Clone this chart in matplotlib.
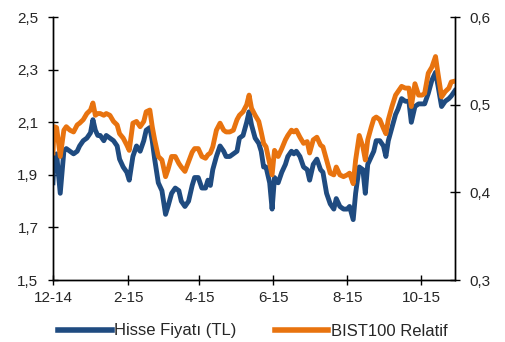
import pandas as pd
from matplotlib import pyplot as plt

# days counted from 1 Dec 2014
days = [0, 1, 3, 6, 9, 11, 14, 17, 20, 22, 25, 28, 31, 33, 35, 37, 39, 42, 44, 47,
        50, 53, 55, 58, 61, 63, 66, 69, 72, 75, 77, 80, 82, 84, 87, 90, 93, 95, 98, 101,
        104, 106, 109, 112, 115, 117, 120, 123, 126, 128, 130, 132, 135, 138, 141, 143, 146, 149, 152, 154,
        157, 160, 162, 164, 167, 170, 172, 174, 176, 179, 181, 183, 186, 189, 192, 194, 197, 199, 201, 204,
        207, 210, 212, 215, 218, 221, 223, 226, 229, 232, 234, 237, 240, 243, 245, 248, 250, 253, 256, 258,
        260, 263, 265, 267, 270, 273, 275, 277, 280, 283, 285, 288, 291, 294, 296, 299, 302, 305, 307, 310,
        313, 316, 318, 321, 324, 327, 329, 332]

hisse_fiyati = [1.87, 1.97, 1.98, 1.83, 1.99, 2.00, 1.99, 1.98, 1.99, 2.01, 2.03, 2.04, 2.06, 2.11, 2.07, 2.05, 2.05, 2.03, 2.05, 2.04,
                2.03, 2.01, 1.96, 1.93, 1.91, 1.88, 1.97, 2.01, 1.99, 2.03, 2.07, 2.08, 2.03, 1.96, 1.87, 1.84, 1.75, 1.78, 1.83, 1.85,
                1.84, 1.80, 1.78, 1.80, 1.86, 1.89, 1.89, 1.85, 1.85, 1.88, 1.86, 1.92, 1.97, 2.01, 1.99, 1.97, 1.97, 1.98, 1.99, 2.04,
                2.05, 2.10, 2.14, 2.09, 2.04, 2.02, 1.99, 1.93, 1.93, 1.87, 1.77, 1.89, 1.87, 1.91, 1.94, 1.97, 1.99, 1.98, 1.99, 1.97,
                1.93, 1.92, 1.88, 1.94, 1.96, 1.92, 1.91, 1.83, 1.79, 1.77, 1.81, 1.78, 1.77, 1.77, 1.78, 1.73, 1.83, 1.93, 1.92, 1.83,
                1.94, 1.97, 1.99, 2.03, 2.03, 2.01, 1.97, 2.03, 2.08, 2.13, 2.15, 2.19, 2.18, 2.18, 2.10, 2.16, 2.17, 2.17, 2.17, 2.21,
                2.26, 2.29, 2.24, 2.16, 2.18, 2.19, 2.20, 2.22]

bist100_relatif = [0.445, 0.475, 0.474, 0.441, 0.471, 0.475, 0.471, 0.469, 0.477, 0.479, 0.483, 0.490, 0.494, 0.502, 0.488, 0.490, 0.490, 0.488, 0.490, 0.488,
                   0.481, 0.477, 0.467, 0.462, 0.454, 0.448, 0.479, 0.481, 0.475, 0.481, 0.492, 0.494, 0.475, 0.460, 0.441, 0.437, 0.418, 0.426, 0.441, 0.441,
                   0.433, 0.429, 0.424, 0.435, 0.446, 0.450, 0.450, 0.441, 0.439, 0.443, 0.445, 0.452, 0.471, 0.479, 0.471, 0.469, 0.469, 0.471, 0.483, 0.488,
                   0.492, 0.500, 0.511, 0.496, 0.488, 0.481, 0.469, 0.456, 0.452, 0.433, 0.420, 0.448, 0.441, 0.450, 0.460, 0.465, 0.471, 0.469, 0.471, 0.463,
                   0.456, 0.458, 0.445, 0.460, 0.463, 0.454, 0.452, 0.437, 0.422, 0.420, 0.429, 0.420, 0.418, 0.420, 0.422, 0.410, 0.437, 0.465, 0.452, 0.437,
                   0.460, 0.475, 0.484, 0.486, 0.483, 0.473, 0.467, 0.483, 0.498, 0.511, 0.515, 0.521, 0.519, 0.519, 0.498, 0.524, 0.511, 0.511, 0.513, 0.536,
                   0.543, 0.555, 0.536, 0.509, 0.515, 0.519, 0.526, 0.527]

tick_dates = ['2014-12-01', '2015-02-01', '2015-04-01', '2015-06-01', '2015-08-01', '2015-10-01']
tick_labels = ['12-14', '2-15', '4-15', '6-15', '8-15', '10-15']
left_ticks = [1.5, 1.7, 1.9, 2.1, 2.3, 2.5]
right_ticks = [0.3, 0.4, 0.5, 0.6]

start = pd.Timestamp('2014-12-01')
dates = [start + pd.Timedelta(days=d) for d in days]

plt.rcParams['font.family'] = ['Liberation Sans', 'DejaVu Sans']
blue = '#1f4b80'
orange = '#e8730f'
txt = '#262626'

fig = plt.figure(figsize=(5.06, 3.42), dpi=100)
ax = fig.add_axes([0.1047, 0.181, 0.7943, 0.769])
ax2 = ax.twinx()

ax.plot(dates, hisse_fiyati, color=blue, linewidth=3.5, label='Hisse Fiyatı (TL)')
ax2.plot(dates, bist100_relatif, color=orange, linewidth=3.5, label='BIST100 Relatif')

ax.set_xlim(dates[0], dates[-1])
ax.set_ylim(1.5, 2.5)
ax2.set_ylim(0.3, 0.6)

ax.set_xticks(pd.to_datetime(tick_dates))
ax.set_xticklabels(tick_labels)
ax.set_yticks(left_ticks)
ax.set_yticklabels([('%.1f' % v).replace('.', ',') for v in left_ticks])
ax2.set_yticks(right_ticks)
ax2.set_yticklabels([('%.1f' % v).replace('.', ',') for v in right_ticks])

for a in (ax, ax2):
    a.spines['top'].set_visible(False)
    for s in a.spines.values():
        s.set_color('black')
        s.set_linewidth(1.0)
    a.tick_params(direction='inout', length=7, width=1.0, labelsize=11, labelcolor=txt, pad=7)
ax.tick_params(axis='x', pad=4)

h1, l1 = ax.get_legend_handles_labels()
h2, l2 = ax2.get_legend_handles_labels()
leg = fig.legend(h1 + h2, l1 + l2, loc='center', bbox_to_anchor=(0.5, 1 - 331 / 342), ncol=2, frameon=False,
                 fontsize=12, handlelength=3.2, handletextpad=0.15, columnspacing=2.3, labelcolor=txt)
for line in leg.get_lines():
    line.set_linewidth(4)

fig.savefig('out.png', dpi=100)
